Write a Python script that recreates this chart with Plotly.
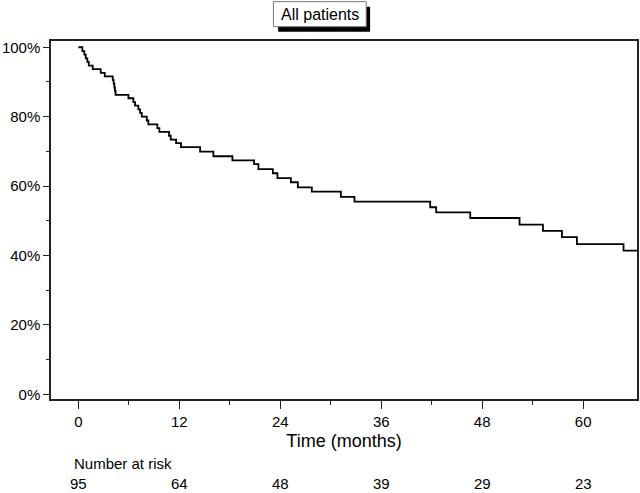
import plotly.graph_objects as go

# Kaplan-Meier step data (months, % surviving)
event_times = [0, 0.48, 0.71, 0.88, 1.07, 1.24, 1.71, 2.66, 3.14, 4.09, 4.2, 4.28, 4.35, 4.42,
               5.95, 6.54, 6.74, 7.13, 7.34, 7.54, 8.13, 8.32, 9.39, 9.63, 10.78, 10.98,
               11.62, 12.2, 14.47, 16.05, 18.31, 20.89, 21.4, 23.12, 23.66, 25.26, 26.09,
               27.75, 31.2, 32.82, 41.82, 42.53, 46.58, 52.44, 55.22, 57.48, 59.26, 64.8, 66.4]
survival_pct = [100, 98.9, 97.9, 96.8, 95.8, 94.7, 93.7, 92.6, 91.6, 90.5, 89.5, 88.4, 87.4, 86.3,
                85.3, 84.2, 83.2, 82.1, 81.1, 80.0, 78.9, 77.8, 76.7, 75.6, 74.5, 73.4,
                72.4, 71.2, 69.9, 68.6, 67.4, 66.3, 64.9, 63.7, 62.3, 61.1, 59.6,
                58.4, 56.9, 55.5, 53.9, 52.4, 50.8, 48.9, 47.1, 45.3, 43.3, 41.4, 41.4]

x_ticks = [0, 12, 24, 36, 48, 60]
y_ticks = [0, 20, 40, 60, 80, 100]
y_tick_labels = ["0%", "20%", "40%", "60%", "80%", "100%"]
risk_times = [0, 12, 24, 36, 48, 60]
risk_counts = [95, 64, 48, 39, 29, 23]

FONT = "Arial, Liberation Sans, sans-serif"

fig = go.Figure()
fig.add_trace(go.Scatter(x=event_times, y=survival_pct, mode="lines",
                         line=dict(color="black", width=1.8, shape="hv"),
                         showlegend=False, hoverinfo="skip"))

axis_common = dict(showline=True, linecolor="#222", linewidth=1.5, mirror=True,
                   ticks="outside", tickcolor="#222", tickwidth=1.2, showgrid=False,
                   zeroline=False, automargin=False,
                   tickfont=dict(family=FONT, size=15, color="black"))

fig.update_xaxes(range=[-3.25, 66.4], tickmode="array", tickvals=x_ticks, ticklen=8,
                 minor=dict(ticks="outside", ticklen=4, tickvals=[6, 18, 30, 42, 54],
                            tickcolor="#222", tickwidth=1.2),
                 title=dict(text="Time (months)", font=dict(family=FONT, size=18, color="black"),
                            standoff=6),
                 **axis_common)
fig.update_yaxes(range=[-1.35, 101.8], tickmode="array", tickvals=y_ticks, ticktext=y_tick_labels,
                 ticklen=6,
                 minor=dict(ticks="outside", ticklen=3, tickvals=[10, 30, 50, 70, 90],
                            tickcolor="#222", tickwidth=1.2),
                 **axis_common)

# Title box with drop shadow
fig.add_shape(type="rect", xref="paper", yref="paper", x0=0.3876, x1=0.5445, y0=1.026, y1=1.0959,
              fillcolor="black", line=dict(width=0), layer="above")
fig.add_shape(type="rect", xref="paper", yref="paper", x0=0.3796, x1=0.5379, y0=1.04, y1=1.1099,
              fillcolor="white", line=dict(color="#777", width=1), layer="above")
fig.add_annotation(text="All patients", xref="paper", yref="paper", x=0.4587, y=1.075,
                   showarrow=False, font=dict(family=FONT, size=16, color="black"),
                   xanchor="center", yanchor="middle")

# Number at risk table
fig.add_annotation(text="Number at risk", xref="x", yref="paper", x=-0.75, y=-0.181,
                   showarrow=False, xanchor="left", yanchor="middle",
                   font=dict(family=FONT, size=15, color="black"))
for t, n in zip(risk_times, risk_counts):
    fig.add_annotation(text=str(n), xref="x", yref="paper", x=t, y=-0.236,
                       showarrow=False, xanchor="center", yanchor="middle",
                       font=dict(family=FONT, size=15, color="black"))

fig.update_layout(width=640, height=493, plot_bgcolor="white", paper_bgcolor="white",
                  margin=dict(l=51, r=3, t=41, b=94), font=dict(family=FONT))

fig.write_html("out.html", config={"displayModeBar": False},
               post_script="document.body.style.margin='0';document.body.style.overflow='hidden';")
